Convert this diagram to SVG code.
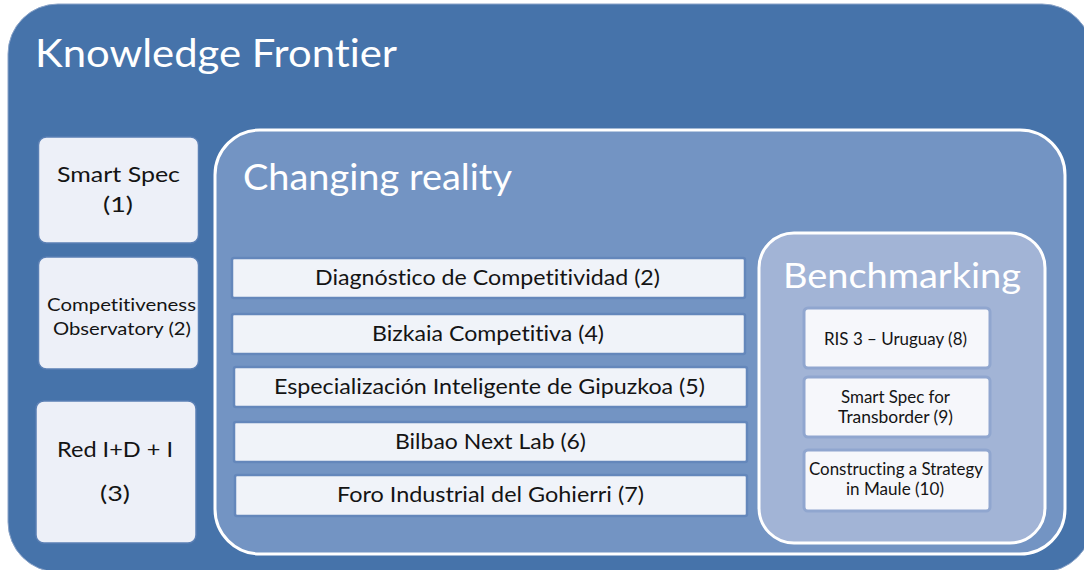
<svg xmlns="http://www.w3.org/2000/svg" width="1084" height="570" viewBox="0 0 1084 570">
<defs>
<style>
.t{font-family:Lato,"Liberation Sans",sans-serif;font-variant-ligatures:none;font-feature-settings:"liga" 0,"clig" 0;}
.w{fill:#ffffff;}
.k{fill:#141414;}
.side{fill:#edf0f8;stroke:#5a7fb4;stroke-width:1.5;}
.bar{fill:#f0f3f9;stroke:#6487bb;stroke-width:2.5;}
.bm{fill:#f6f7fb;stroke:#90a6cf;stroke-width:3;}
</style>
</defs>
<rect width="1084" height="570" fill="#ffffff"/>
<g id="knowledge-frontier">
<rect x="8" y="4" width="1084" height="568" rx="50" fill="#4673aa" stroke="#8aa3c8" stroke-width="1"/>
<text class="t w" x="35" y="67" font-size="39" textLength="362" lengthAdjust="spacingAndGlyphs">Knowledge Frontier</text>
</g>
<g id="smart-spec">
<rect class="side" x="38.5" y="137" width="160" height="106" rx="8"/>
<text class="t k" x="57" y="182" font-size="21" textLength="123" lengthAdjust="spacingAndGlyphs">Smart Spec</text>
<text class="t k" x="103" y="212" font-size="21" textLength="30" lengthAdjust="spacingAndGlyphs">(1)</text>
</g>
<g id="competitiveness-observatory">
<rect class="side" x="38.5" y="257" width="160" height="112" rx="8"/>
<text class="t k" x="47" y="311" font-size="18" textLength="149" lengthAdjust="spacingAndGlyphs">Competitiveness</text>
<text class="t k" x="53" y="335" font-size="18" textLength="138" lengthAdjust="spacingAndGlyphs">Observatory (2)</text>
</g>
<g id="red-idi">
<rect class="side" x="36" y="401" width="160" height="142" rx="8"/>
<text class="t k" x="57" y="457" font-size="21" textLength="116" lengthAdjust="spacingAndGlyphs">Red I+D + I</text>
<text class="t k" x="100" y="501" font-size="21" textLength="30" lengthAdjust="spacingAndGlyphs">(3)</text>
</g>
<g id="changing-reality">
<rect x="215" y="130" width="850" height="424" rx="45" fill="#7394c3" stroke="#ffffff" stroke-width="3"/>
<text class="t w" x="243" y="190" font-size="37" textLength="269" lengthAdjust="spacingAndGlyphs">Changing reality</text>
</g>
<g id="diagnostico">
<rect class="bar" x="232" y="258" width="513" height="40" rx="2"/>
<text class="t k" x="315" y="285" font-size="21" textLength="345" lengthAdjust="spacingAndGlyphs">Diagnóstico de Competitividad (2)</text>
</g>
<g id="bizkaia">
<rect class="bar" x="232" y="314" width="513" height="40" rx="2"/>
<text class="t k" x="372" y="341" font-size="21" textLength="232" lengthAdjust="spacingAndGlyphs">Bizkaia Competitiva (4)</text>
</g>
<g id="especializacion">
<rect class="bar" x="234" y="367" width="513" height="40" rx="2"/>
<text class="t k" x="274" y="394" font-size="21" textLength="431" lengthAdjust="spacingAndGlyphs">Especialización Inteligente de Gipuzkoa (5)</text>
</g>
<g id="bilbao-next-lab">
<rect class="bar" x="234" y="422" width="513" height="40" rx="2"/>
<text class="t k" x="395" y="449" font-size="21" textLength="191" lengthAdjust="spacingAndGlyphs">Bilbao Next Lab (6)</text>
</g>
<g id="foro-industrial">
<rect class="bar" x="235" y="475" width="512" height="41" rx="2"/>
<text class="t k" x="337" y="502" font-size="21" textLength="307" lengthAdjust="spacingAndGlyphs">Foro Industrial del Gohierri (7)</text>
</g>
<g id="benchmarking">
<rect x="759" y="233" width="286" height="310" rx="35" fill="#a2b4d6" stroke="#ffffff" stroke-width="3"/>
<text class="t w" x="783" y="288" font-size="35" textLength="238" lengthAdjust="spacingAndGlyphs">Benchmarking</text>
</g>
<g id="ris3-uruguay">
<rect class="bm" x="804" y="308" width="186" height="60" rx="4"/>
<text class="t k" x="824" y="345" font-size="16.5" textLength="143" lengthAdjust="spacingAndGlyphs">RIS 3 – Uruguay (8)</text>
</g>
<g id="smart-spec-transborder">
<rect class="bm" x="804" y="377" width="186" height="60" rx="4"/>
<text class="t k" x="841" y="403" font-size="16.5" textLength="109" lengthAdjust="spacingAndGlyphs">Smart Spec for</text>
<text class="t k" x="838" y="423" font-size="16.5" textLength="115" lengthAdjust="spacingAndGlyphs">Transborder (9)</text>
</g>
<g id="constructing-maule">
<rect class="bm" x="804" y="450" width="186" height="61" rx="4"/>
<text class="t k" x="809" y="475" font-size="16.5" textLength="174" lengthAdjust="spacingAndGlyphs">Constructing a Strategy</text>
<text class="t k" x="846" y="495" font-size="16.5" textLength="98" lengthAdjust="spacingAndGlyphs">in Maule (10)</text>
</g>
<g id="connectors"></g>
</svg>
